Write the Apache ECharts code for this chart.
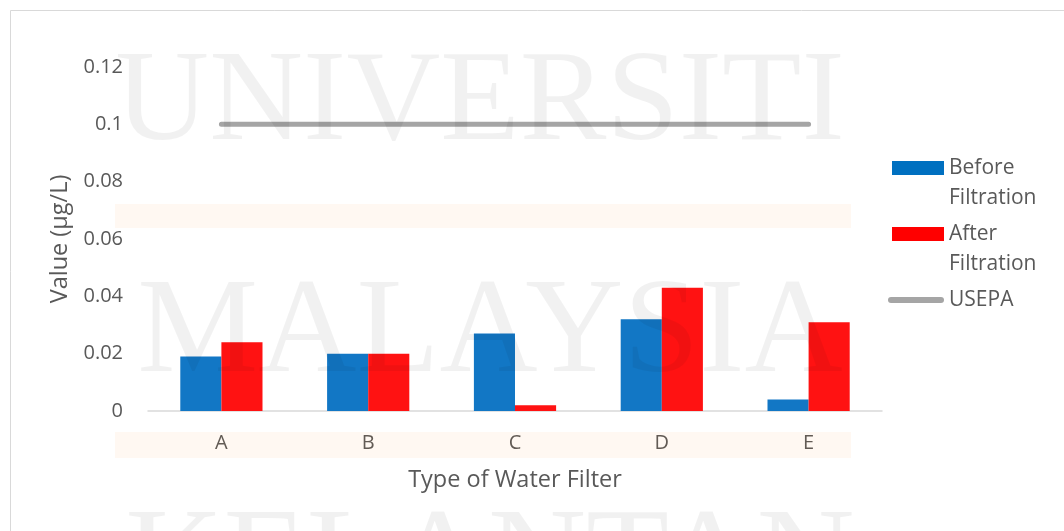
<!DOCTYPE html>
<html>
<head>
<meta charset="utf-8">
<script src="https://cdn.jsdelivr.net/npm/echarts@6/dist/echarts.min.js"></script>
<style>
html,body{margin:0;padding:0;background:#fff;}
#c{width:1064px;height:531px;}
</style>
</head>
<body>
<div id="c"></div>
<script>
var categories = ['A', 'B', 'C', 'D', 'E'];
var beforeFiltration = [0.019, 0.020, 0.027, 0.032, 0.004];
var afterFiltration = [0.024, 0.020, 0.002, 0.043, 0.031];
var usepa = [0.1, 0.1, 0.1, 0.1, 0.1];
var yTicks = [0, 0.02, 0.04, 0.06, 0.08, 0.1, 0.12];

var FONT = '"Open Sans", "Noto Sans", sans-serif';
var TXT = '#595959';
var chart = echarts.init(document.getElementById('c'));

function barLegend(name, top, color) {
  return {
    orient: 'vertical', left: 892, top: top, padding: 0,
    itemWidth: 52, itemHeight: 14, itemGap: 0,
    selectedMode: false, icon: 'rect',
    data: [name],
    itemStyle: { color: color },
    formatter: function (n) { return ' \n' + n.replace(' ', '\n'); },
    textStyle: { color: TXT, fontFamily: FONT, fontSize: 21, lineHeight: 30 }
  };
}

chart.setOption({
  backgroundColor: '#ffffff',
  animation: false,
  grid: { left: 148, right: 182, top: 67, bottom: 120 },
  legend: [
    barLegend('Before Filtration', 123, '#0070c0'),
    barLegend('After Filtration', 189, '#ff0000'),
    {
      orient: 'vertical', left: 888, top: 285, padding: 0,
      itemWidth: 56, itemHeight: 6, itemGap: 0,
      selectedMode: false,
      icon: 'path://M3,0 L53,0 A3,3 0 0 1 53,6 L3,6 A3,3 0 0 1 3,0 Z',
      data: ['USEPA'],
      itemStyle: { color: '#a5a5a5' },
      textStyle: { color: TXT, fontFamily: FONT, fontSize: 21, lineHeight: 30 }
    }
  ],
  xAxis: {
    type: 'category',
    data: categories,
    name: 'Type of Water Filter',
    nameLocation: 'middle',
    nameGap: 57,
    nameTextStyle: { color: TXT, fontFamily: FONT, fontSize: 23.5 },
    axisLine: { lineStyle: { color: '#d9d9d9', width: 1.5 } },
    axisTick: { show: false },
    axisLabel: { color: TXT, fontFamily: FONT, fontSize: 20, margin: 22 }
  },
  yAxis: {
    type: 'value',
    min: yTicks[0],
    max: yTicks[yTicks.length - 1],
    interval: 0.02,
    name: 'Value (µg/L)',
    nameLocation: 'middle',
    nameGap: 75,
    nameTextStyle: { color: TXT, fontFamily: FONT, fontSize: 23.5 },
    axisLine: { show: false },
    axisTick: { show: false },
    splitLine: { show: false },
    axisLabel: {
      color: TXT, fontFamily: FONT, fontSize: 20, margin: 25,
      formatter: function (v) { return String(Math.round(v * 100) / 100); }
    }
  },
  series: [
    {
      name: 'Before Filtration', type: 'bar', data: beforeFiltration,
      barGap: '0%', barCategoryGap: '44%',
      itemStyle: { color: '#1277c5' }
    },
    {
      name: 'After Filtration', type: 'bar', data: afterFiltration,
      itemStyle: { color: '#ff1212' }
    },
    {
      name: 'USEPA', type: 'line', data: usepa,
      symbol: 'none', z: 5,
      itemStyle: { color: '#a5a5a5' },
      lineStyle: { color: '#a5a5a5', width: 5, cap: 'round' }
    }
  ],
  graphic: [
    { type: 'rect', z: -10, silent: true,
      shape: { x: 10.5, y: 10.5, width: 1200, height: 700 },
      style: { fill: null, stroke: '#d9d9d9', lineWidth: 1 } },
    { type: 'rect', z: 100, silent: true,
      shape: { x: 115, y: 204, width: 736, height: 24 },
      style: { fill: 'rgba(255,140,40,0.06)' } },
    { type: 'rect', z: 100, silent: true,
      shape: { x: 115, y: 432, width: 736, height: 26 },
      style: { fill: 'rgba(255,140,40,0.06)' } },
    { type: 'text', z: 100, silent: true,
      style: { text: 'UNIVERSITI', x: 480, y: 105, textAlign: 'center', textVerticalAlign: 'middle',
        font: '130px "Liberation Serif", serif', fill: 'rgba(0,0,0,0.055)' } },
    { type: 'text', z: 100, silent: true,
      style: { text: 'MALAYSIA', x: 490, y: 335, textAlign: 'center', textVerticalAlign: 'middle',
        font: '136px "Liberation Serif", serif', fill: 'rgba(0,0,0,0.055)' } },
    { type: 'text', z: 100, silent: true,
      style: { text: 'KELANTAN', x: 490, y: 565, textAlign: 'center', textVerticalAlign: 'middle',
        font: '136px "Liberation Serif", serif', fill: 'rgba(0,0,0,0.055)' } }
  ]
});
</script>
</body>
</html>
